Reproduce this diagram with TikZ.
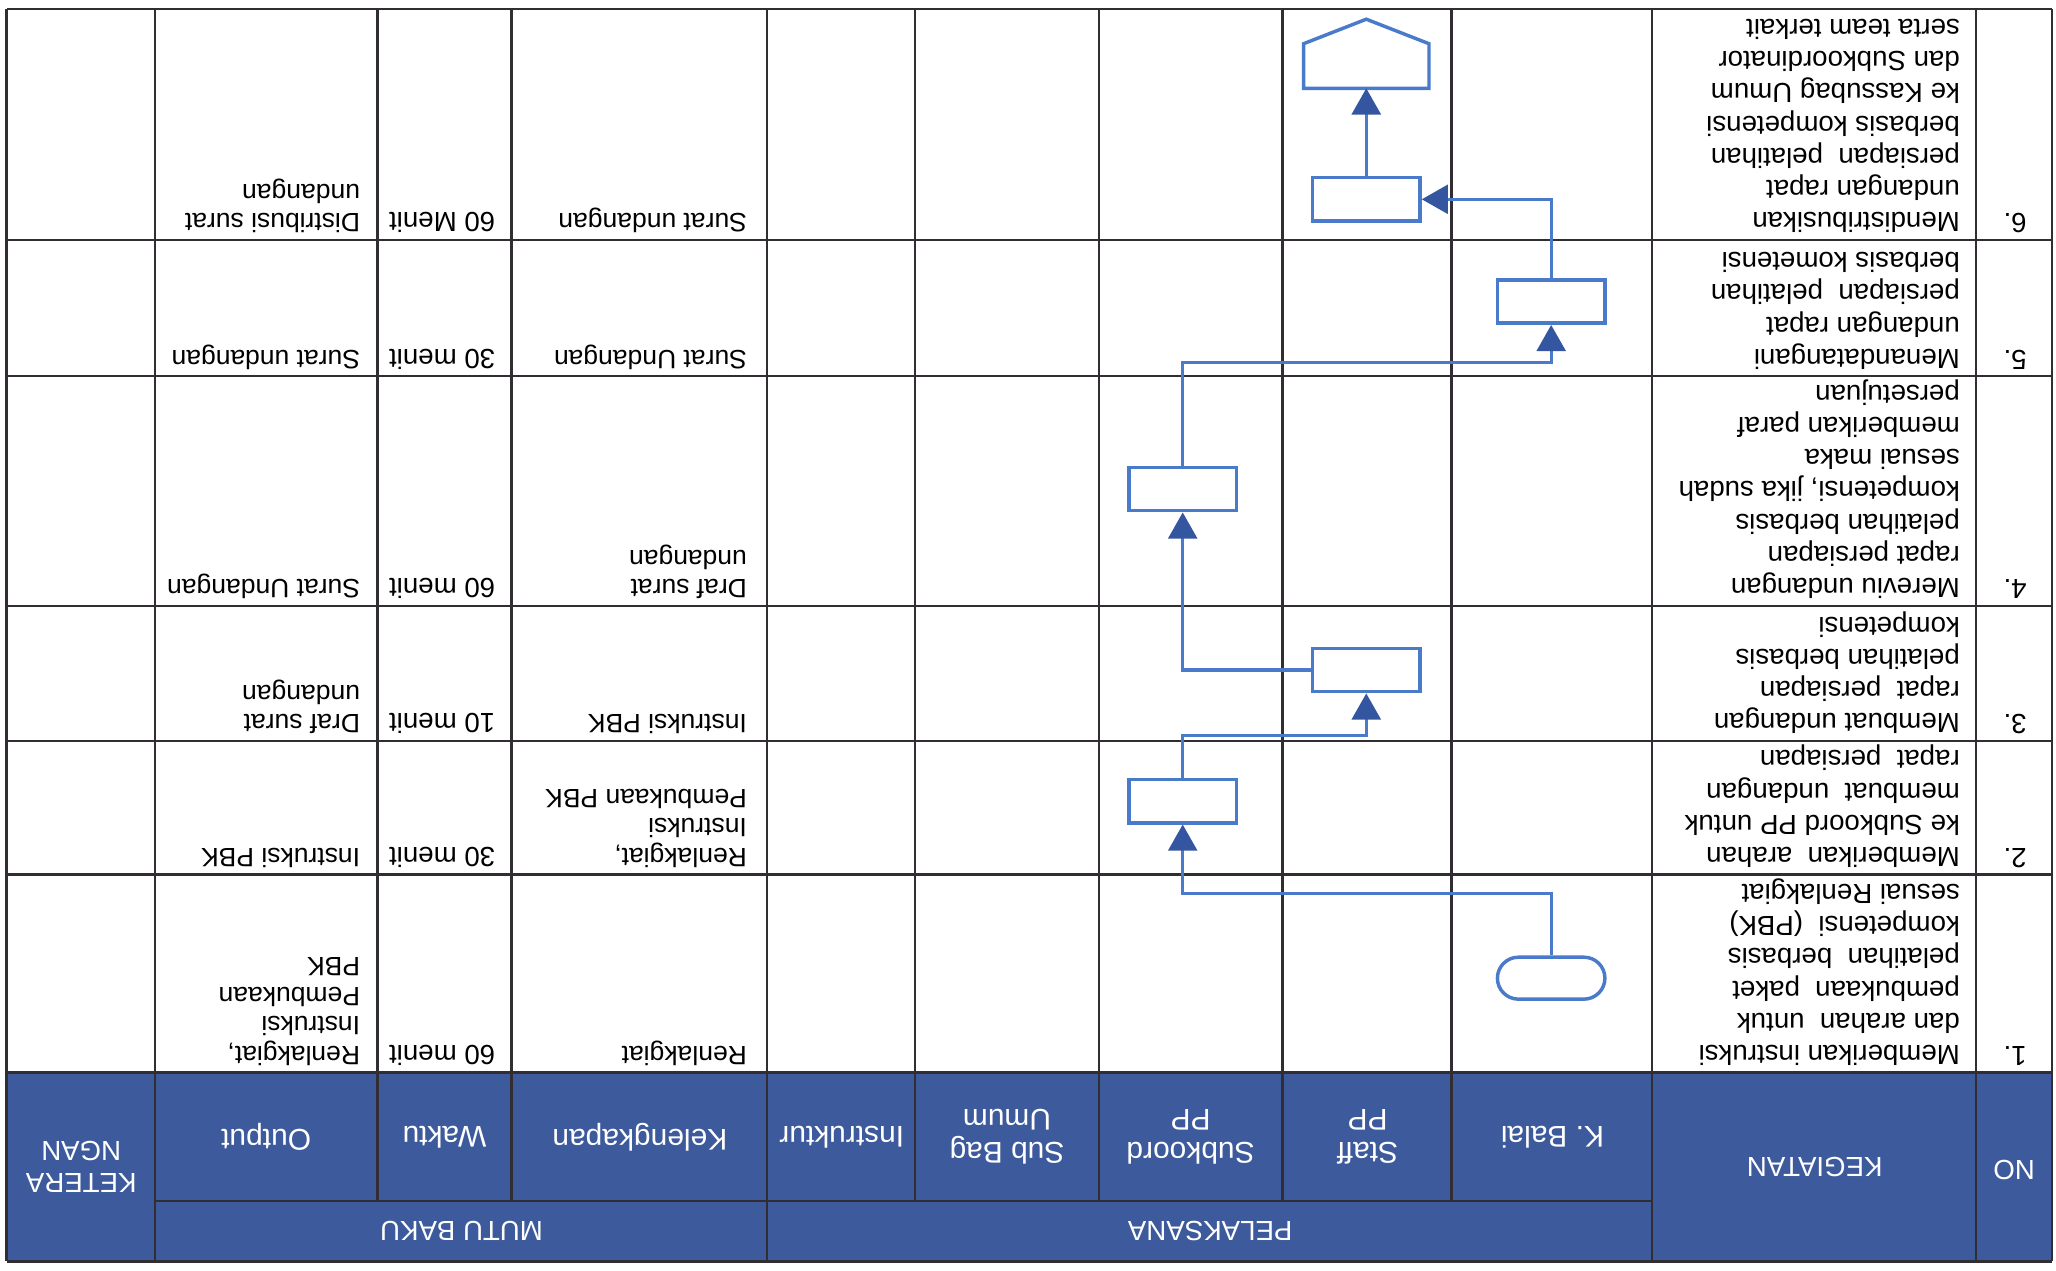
\documentclass[tikz,border=0pt]{standalone}
\usepackage{fontspec}
\setmainfont{Liberation Sans}
\usetikzlibrary{arrows.meta}

\definecolor{headblue}{RGB}{61,91,156}
\definecolor{linegray}{RGB}{50,45,50}
\definecolor{flowblue}{RGB}{74,122,202}
\definecolor{tipblue}{RGB}{52,86,160}

\begin{document}
\begin{tikzpicture}[x=0.02cm, y=0.02cm, rotate=180, transform shape,
    txt/.style={anchor=north west, inner sep=0pt, align=left,
                font=\fontsize{12}{14}\selectfont},
    smalltxt/.style={txt, font=\fontsize{11.5}{12.8}\selectfont},
    head/.style={inner sep=0pt, align=center, text=white,
                 font=\fontsize{12}{14}\selectfont},
    colhead/.style={head, font=\fontsize{13}{14.5}\selectfont},
    tableline/.style={draw=linegray, line width=1pt},
    procbox/.style={draw=flowblue, line width=1.5pt, minimum width=1.64cm,
                    minimum height=0.66cm, inner sep=0pt},
    termbox/.style={procbox, minimum height=0.64cm, rounded corners=0.32cm},
    flow/.style={draw=flowblue, line width=1.4pt,
                 -{Triangle[width=0.44cm, length=0.4cm, color=tipblue]}}]

  \useasboundingbox (0,0) rectangle (1568,969);

  % table
  \fill[headblue] (3,818) rectangle (1563,962);
  \foreach \xx in {3,61,308,983,1450,1563}
    \draw[tableline] (\xx,7) -- (\xx,962);
  \foreach \xx in {461,590,730,870,1178,1280}
    \draw[tableline] (\xx,7) -- (\xx,916);
  \foreach \yy in {7,183,287,462,565,667,818,962}
    \draw[tableline] (3,\yy) -- (1563,\yy);
  \draw[tableline] (308,916) -- (1450,916);

  % header
  \node(hno)[head] at (32,892) {NO};
  \node(hkeg)[head] at (184,890) {KEGIATAN};
  \node(hpel)[head] at (645,939) {PELAKSANA};
  \node(hmutu)[head] at (1216,939) {MUTU BAKU};
  \node(hbalai)[colhead] at (384,867) {K. Balai};
  \node(hstaff)[colhead] at (525,867) {Staff\\PP};
  \node(hsub)[colhead] at (660,867) {Subkoord\\PP};
  \node(hum)[colhead] at (800,867) {Sub Bag\\Umum};
  \node(hins)[colhead] at (926,867) {Instruktur};
  \node(hkel)[colhead] at (1080,867) {Kelengkapan};
  \node(hwak)[colhead] at (1229,867) {Waktu};
  \node(hout)[colhead] at (1365,867) {Output};
  \node(hket)[head] at (1506,890) {KETERA\\NGAN};

  % rows
  \node(no1)[txt] at (22,813) {1.};
  \node(keg1)[txt] at (73,813) {Memberikan instruksi\\dan arahan\ \ untuk\\pembukaan\ \ paket\\pelatihan\ \ berbasis\\kompetensi\ \ (PBK)\\sesuai Renlakgiat};
  \node(kel1)[smalltxt] at (998,813) {Renlakgiat};
  \node(wak1)[txt] at (1190,813) {60 menit};
  \node(out1)[smalltxt] at (1293,813) {Renlakgiat,\\Instruksi\\Pembukaan\\PBK};

  \node(no2)[txt] at (22,662) {2.};
  \node(keg2)[txt] at (73,662) {Memberikan\ \ arahan\\ke Subkoord PP untuk\\membuat\ \ undangan\\rapat\ \ persiapan};
  \node(kel2)[smalltxt] at (998,662) {Renlakgiat,\\Instruksi\\Pembukaan PBK};
  \node(wak2)[txt] at (1190,662) {30 menit};
  \node(out2)[smalltxt] at (1293,662) {Instruksi PBK};

  \node(no3)[txt] at (22,560) {3.};
  \node(keg3)[txt] at (73,560) {Membuat undangan\\rapat\ \ persiapan\\pelatihan berbasis\\kompetensi};
  \node(kel3)[smalltxt] at (998,560) {Instruksi PBK};
  \node(wak3)[txt] at (1190,560) {10 menit};
  \node(out3)[smalltxt] at (1293,560) {Draf surat\\undangan};

  \node(no4)[txt] at (22,457) {4.};
  \node(keg4)[txt] at (73,457) {Mereviu undangan\\rapat persiapan\\pelatihan berbasis\\kompetensi, jika sudah\\sesuai maka\\memberikan paraf\\persetujuan};
  \node(kel4)[smalltxt] at (998,457) {Draf surat\\undangan};
  \node(wak4)[txt] at (1190,457) {60 menit};
  \node(out4)[smalltxt] at (1293,457) {Surat Undangan};

  \node(no5)[txt] at (22,282) {5.};
  \node(keg5)[txt] at (73,282) {Menandatangani\\undangan rapat\\persiapan\ \ pelatihan\\berbasis kometensi};
  \node(kel5)[smalltxt] at (998,282) {Surat Undangan};
  \node(wak5)[txt] at (1190,282) {30 menit};
  \node(out5)[smalltxt] at (1293,282) {Surat undangan};

  \node(no6)[txt] at (22,178) {6.};
  \node(keg6)[txt] at (73,178) {Mendistribusikan\\undangan rapat\\persiapan\ \ pelatihan\\berbasis kompetensi\\ke Kassubag Umum\\dan Subkoordinator\\serta team terkait};
  \node(kel6)[smalltxt] at (998,178) {Surat undangan};
  \node(wak6)[txt] at (1190,178) {60 Menit};
  \node(out6)[smalltxt] at (1293,178) {Distribusi surat\\undangan};

  % flow
  \node(start)[termbox] at (385,746) {};
  \node(p2)[procbox] at (666,611) {};
  \node(p3)[procbox] at (526,511) {};
  \node(p4)[procbox] at (666,373) {};
  \node(p5)[procbox] at (385,230) {};
  \node(p6)[procbox] at (526,152) {};
  \node(offpage)[minimum width=1.9cm, minimum height=1.04cm, inner sep=0pt] at (526,41) {};
  \draw[draw=flowblue, line width=1.5pt] (offpage.north west) -- (offpage.north east)
    -- ([yshift=-0.68cm]offpage.north east) -- (offpage.south)
    -- ([yshift=-0.68cm]offpage.north west) -- cycle;

  \draw[flow] (start.south) -- ++(0,-47) -| (p2.north);
  \draw[flow] (p2.south) -- ++(0,-32) -| (p3.north);
  \draw[flow] (p3.east) -| (p4.north);
  \draw[flow] (p4.south) -- ++(0,-79) -| (p5.north);
  \draw[flow] (p5.south) |- (p6.west);
  \draw[flow] (p6.south) -- (offpage.north);
\end{tikzpicture}
\end{document}
